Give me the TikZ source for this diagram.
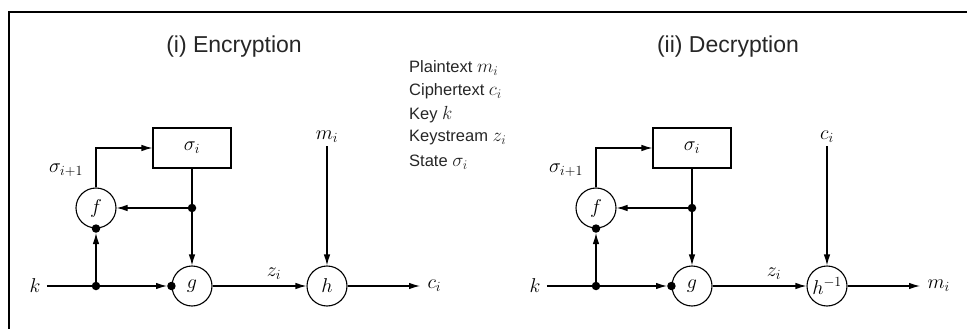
\RequirePackage{fix-cm}
\documentclass[tikz,border=0pt]{standalone}
\usepackage{fontspec}
\newfontfamily\lsans{Liberation Sans}
\usetikzlibrary{arrows.meta}
\newcommand\mf{\fontsize{20}{23}\selectfont}
\newcommand\lm[1]{{\fontsize{19}{21}\selectfont$#1$}}
\newcommand\drawstage[5]{%
\begin{scope}[shift={(#2,0)}]
\node[fn] (#1f) at (96,208) {$f$};
\node[fn] (#1g) at (192,286) {$g$};
\node[fn] (#1h) at (327,286) {$#3$};
\node[stbox] (#1s) at (192,148) {$\sigma_i$};
\node[dotn] (#1dk) at (96,286) {};
\node[dotn] (#1ds) at (192,208) {};
\node[dotn] (#1df) at (#1f.south) {};
\node[dotn] (#1dg) at (#1g.west) {};
\node[lab] (#1k) at (35,286) {$k$};
\node[lab] (#1in) at (327,137) {$#4$};
\node[lab,anchor=west] (#1out) at (424,286) {$#5$};
\node[lab] (#1sig) at (66,170) {$\sigma_{i+1}$};
\node[lab] (#1z) at (274,274) {$z_i$};
\coordinate (#1end) at (420,286);
\draw[conn,shorten <=3pt] (#1k) -- (#1dk);
\draw[conn,arr] (#1dk) -- (#1dg);
\draw[conn,arr] (#1dk) -- (#1df);
\draw[conn,arr] (#1f.north) |- (#1s.west);
\draw[conn] (#1s.south) -- (#1ds);
\draw[conn,arr] (#1ds) -- (#1g.north);
\draw[conn,arr] (#1ds) -- (#1f.east);
\draw[conn,arr] (#1g.east) -- (#1h.west);
\draw[conn,arr] (#1in) -- (#1h.north);
\draw[conn,arr] (#1h.east) -- (#1end);
\end{scope}}
\begin{document}
\begin{tikzpicture}[x=1pt,y=-1pt,
  conn/.style={line width=1.1pt},
  arr/.style={-{Latex[length=11pt,width=6.5pt]}},
  dotn/.style={circle,fill,inner sep=0pt,minimum size=8.5pt},
  fn/.style={circle,draw,line width=1.1pt,minimum size=40pt,inner sep=0pt,font=\mf,fill=white},
  stbox/.style={draw,line width=1.1pt,minimum width=78pt,minimum height=40pt,inner sep=0pt,font=\mf},
  lab/.style={font=\mf},
  title/.style={font=\lsans\fontsize{23}{26}\selectfont,text=black!85},
  leg/.style={font=\lsans\fontsize{16.5}{19}\selectfont,anchor=west,inner sep=0pt,text=black!85}]
\useasboundingbox (0,0) rectangle (967,329);
\draw[line width=2.2pt] (9,330) -- (9,12) -- (968,12);
\node[title] (t1) at (234,47) {(i) Encryption};
\node[title] (t2) at (728,47) {(ii) Decryption};
\node[leg] (l1) at (409,68) {Plaintext \lm{m_i}};
\node[leg] (l2) at (409,91) {Ciphertext \lm{c_i}};
\node[leg] (l3) at (409,115) {Key \lm{k}};
\node[leg] (l4) at (409,138) {Keystream \lm{z_i}};
\node[leg] (l5) at (409,162) {State \lm{\sigma_i}};
\drawstage{a}{0}{h}{m_i}{c_i}
\drawstage{b}{500}{h^{-1}}{c_i}{m_i}
\end{tikzpicture}
\end{document}
